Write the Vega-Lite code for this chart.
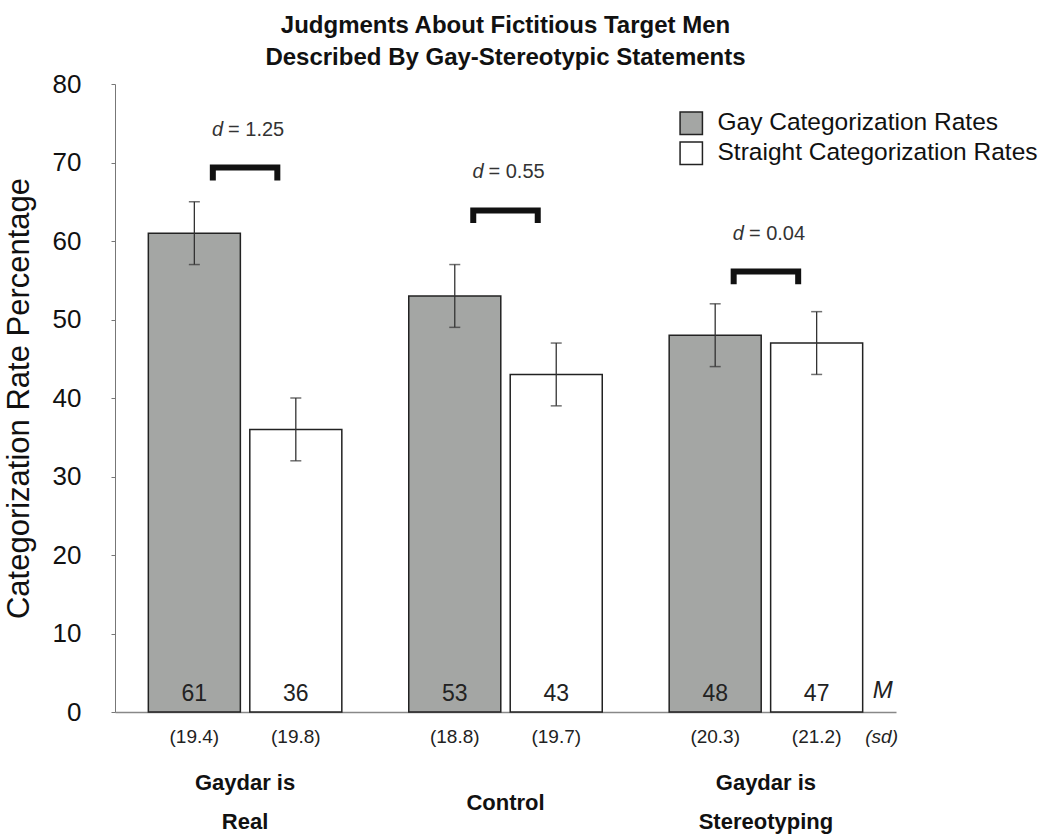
{
  "$schema": "https://vega.github.io/schema/vega-lite/v6.json",
  "width": 781,
  "height": 628,
  "padding": {"left": 3, "top": 14, "right": 5, "bottom": 5},
  "background": "white",
  "config": {"view": {"stroke": null}, "font": "Liberation Sans"},
  "title": {
    "text": ["Judgments About Fictitious Target Men", "Described By Gay-Stereotypic Statements"],
    "font": "Liberation Sans",
    "fontWeight": "bold",
    "fontSize": 24,
    "lineHeight": 32,
    "color": "#111",
    "anchor": "middle",
    "frame": "group",
    "offset": 1
  },
  "datasets": {
    "bars": [
      {"group": "Gaydar is Real", "series": "Gay Categorization Rates", "mean": 61, "lower": 57, "upper": 65, "sd": 19.4},
      {"group": "Gaydar is Real", "series": "Straight Categorization Rates", "mean": 36, "lower": 32, "upper": 40, "sd": 19.8},
      {"group": "Control", "series": "Gay Categorization Rates", "mean": 53, "lower": 49, "upper": 57, "sd": 18.8},
      {"group": "Control", "series": "Straight Categorization Rates", "mean": 43, "lower": 39, "upper": 47, "sd": 19.7},
      {"group": "Gaydar is Stereotyping", "series": "Gay Categorization Rates", "mean": 48, "lower": 44, "upper": 52, "sd": 20.3},
      {"group": "Gaydar is Stereotyping", "series": "Straight Categorization Rates", "mean": 47, "lower": 43, "upper": 51, "sd": 21.2}
    ],
    "brackets": [
      {"group": "Gaydar is Real", "d": "1.25", "top": 69.35},
      {"group": "Control", "d": "0.55", "top": 63.9},
      {"group": "Gaydar is Stereotyping", "d": "0.04", "top": 56.1}
    ],
    "bracketPts": [
      {"group": "Gaydar is Real", "k": 1, "end": "L", "y": 67.7},
      {"group": "Gaydar is Real", "k": 2, "end": "L", "y": 69.35},
      {"group": "Gaydar is Real", "k": 3, "end": "R", "y": 69.35},
      {"group": "Gaydar is Real", "k": 4, "end": "R", "y": 67.7},
      {"group": "Control", "k": 1, "end": "L", "y": 62.3},
      {"group": "Control", "k": 2, "end": "L", "y": 63.9},
      {"group": "Control", "k": 3, "end": "R", "y": 63.9},
      {"group": "Control", "k": 4, "end": "R", "y": 62.3},
      {"group": "Gaydar is Stereotyping", "k": 1, "end": "L", "y": 54.5},
      {"group": "Gaydar is Stereotyping", "k": 2, "end": "L", "y": 56.1},
      {"group": "Gaydar is Stereotyping", "k": 3, "end": "R", "y": 56.1},
      {"group": "Gaydar is Stereotyping", "k": 4, "end": "R", "y": 54.5}
    ]
  },
  "encoding": {
    "x": {
      "field": "group",
      "type": "nominal",
      "sort": ["Gaydar is Real", "Control", "Gaydar is Stereotyping"],
      "scale": {"paddingInner": 0.257, "paddingOuter": 0.128},
      "axis": {
        "title": null,
        "domainColor": "#888",
        "domainWidth": 1.5,
        "ticks": false,
        "labelFont": "Liberation Sans",
        "labelFontWeight": "bold",
        "labelFontSize": 22,
        "labelColor": "#111",
        "labelAngle": 0,
        "labelPadding": {"condition": {"test": "datum.value === 'Control'", "value": 90}, "value": 70},
        "labelBaseline": "middle",
        "labelLineHeight": 39,
        "labelExpr": "datum.value == 'Control' ? 'Control' : ['Gaydar is', slice(datum.value, 10)]"
      }
    }
  },
  "layer": [
    {
      "data": {"name": "bars"},
      "encoding": {
        "xOffset": {
          "field": "series",
          "type": "nominal",
          "scale": {"paddingInner": 0.093, "paddingOuter": 0}
        }
      },
      "layer": [
        {
          "mark": {"type": "bar", "stroke": "#222", "strokeWidth": 1.5},
          "encoding": {
            "y": {
              "field": "mean",
              "type": "quantitative",
              "scale": {"domain": [0, 80], "nice": false},
              "axis": {
                "title": "Categorization Rate Percentage",
                "values": [0, 10, 20, 30, 40, 50, 60, 70, 80],
                "grid": false,
                "domainColor": "#777",
                "tickColor": "#777",
                "tickSize": 4,
                "labelFontSize": 26,
                "labelPadding": 30,
                "labelColor": "#111",
                "titleFontSize": 31,
                "titleFontWeight": "normal",
                "titleColor": "#111",
                "titlePadding": 17
              }
            },
            "fill": {
              "field": "series",
              "type": "nominal",
              "scale": {"range": ["#a4a6a4", "#ffffff"]},
              "legend": {
                "orient": "none",
                "legendX": 564,
                "legendY": 27,
                "title": null,
                "symbolType": "square",
                "symbolSize": 500,
                "symbolStrokeColor": "#222",
                "symbolStrokeWidth": 1.5,
                "labelFontSize": 24.5,
                "labelColor": "#111",
                "labelOffset": 14,
                "rowPadding": 1,
                "labelLimit": 400
              }
            }
          }
        },
        {
          "mark": {"type": "rule", "color": "#333", "strokeWidth": 1.3},
          "encoding": {
            "y": {"field": "lower", "type": "quantitative"},
            "y2": {"field": "upper"}
          }
        },
        {
          "mark": {"type": "tick", "color": "#333", "size": 11, "thickness": 1.5},
          "encoding": {"y": {"field": "lower", "type": "quantitative"}}
        },
        {
          "mark": {"type": "tick", "color": "#333", "size": 11, "thickness": 1.5},
          "encoding": {"y": {"field": "upper", "type": "quantitative"}}
        },
        {
          "mark": {"type": "text", "fontSize": 23, "color": "#222", "baseline": "middle", "dy": -18},
          "encoding": {
            "y": {"datum": 0, "type": "quantitative"},
            "text": {"field": "mean", "type": "quantitative"}
          }
        },
        {
          "transform": [{"calculate": "'(' + format(datum.sd, '.1f') + ')'", "as": "sdLabel"}],
          "mark": {"type": "text", "fontSize": 19, "color": "#222", "baseline": "middle", "dy": 25},
          "encoding": {
            "y": {"datum": 0, "type": "quantitative"},
            "text": {"field": "sdLabel"}
          }
        },
        {
          "data": {"values": [{"lab": "M"}]},
          "mark": {"type": "text", "fontSize": 24, "fontStyle": "italic", "color": "#222", "baseline": "middle", "dx": 66, "dy": -21},
          "encoding": {
            "x": {"datum": "Gaydar is Stereotyping"},
            "xOffset": {"datum": "Straight Categorization Rates"},
            "y": {"datum": 0, "type": "quantitative"},
            "text": {"field": "lab"}
          }
        },
        {
          "data": {"values": [{"lab": "(sd)"}]},
          "mark": {"type": "text", "fontSize": 19, "fontStyle": "italic", "color": "#222", "baseline": "middle", "dx": 65, "dy": 25},
          "encoding": {
            "x": {"datum": "Gaydar is Stereotyping"},
            "xOffset": {"datum": "Straight Categorization Rates"},
            "y": {"datum": 0, "type": "quantitative"},
            "text": {"field": "lab"}
          }
        }
      ]
    },
    {
      "data": {"name": "bracketPts"},
      "mark": {"type": "line", "color": "#111", "strokeWidth": 6, "strokeCap": "butt", "strokeJoin": "miter"},
      "encoding": {
        "xOffset": {"field": "end", "type": "nominal", "scale": {"type": "point", "padding": 1.45}},
        "y": {"field": "y", "type": "quantitative"},
        "detail": {"field": "group"},
        "order": {"field": "k", "type": "quantitative"}
      }
    },
    {
      "data": {"name": "brackets"},
      "layer": [
        {
          "mark": {"type": "text", "fontSize": 20, "fontStyle": "italic", "color": "#333", "align": "right", "baseline": "middle", "dx": -22, "dy": -38},
          "encoding": {
            "y": {"field": "top", "type": "quantitative"},
            "text": {"value": "d"}
          }
        },
        {
          "transform": [{"calculate": "'= ' + datum.d", "as": "dLabel"}],
          "mark": {"type": "text", "fontSize": 20, "color": "#333", "align": "left", "baseline": "middle", "dx": -17, "dy": -38},
          "encoding": {
            "y": {"field": "top", "type": "quantitative"},
            "text": {"field": "dLabel"}
          }
        }
      ]
    }
  ],
  "resolve": {"scale": {"xOffset": "independent"}}
}
